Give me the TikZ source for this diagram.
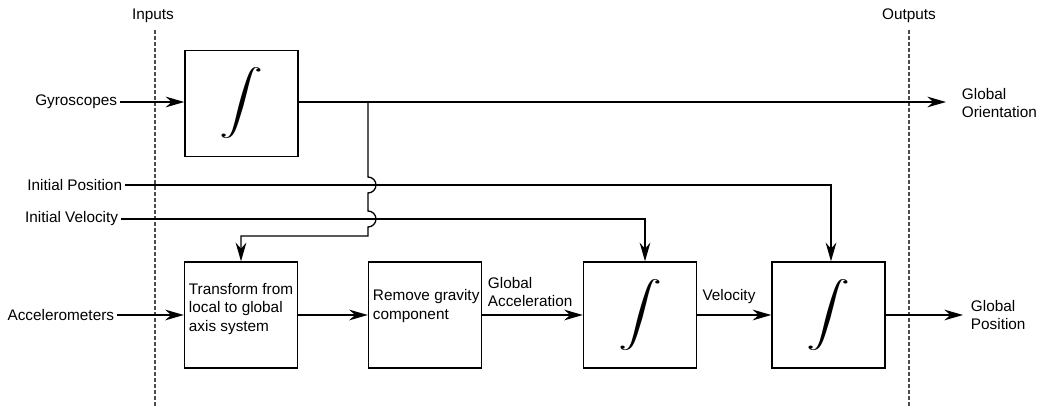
\documentclass[tikz,border=0pt]{standalone}
\usepackage{fontspec}
\setmainfont{Liberation Sans}
\usepackage{graphicx}
\usetikzlibrary{arrows.meta,calc}
\newlength\pxu
\setlength\pxu{0.75pt}
\newcommand\bigint{\scalebox{3.3}[2.4]{$\displaystyle\int$}}
\begin{document}
\begin{tikzpicture}[x=0.75pt,y=-0.75pt,
  every node/.style={font=\fontsize{11.5}{14}\selectfont},
  blk/.style={draw,line width=1pt,minimum width=113\pxu,minimum height=106\pxu,inner sep=0pt},
  txt/.style={inner sep=2pt},
  multi/.style={inner sep=2pt,align=left},
  arr/.style={line width=1pt,-{Stealth[length=14pt,width=8pt,inset=4.5pt]}},
  sep/.style={line width=0.8pt,draw=black!70,dash pattern=on 3pt off 1.5pt}
]
\path[use as bounding box] (0,0) rectangle (1040,410);
% separators
\draw[sep] (155,30) -- (155,408);
\draw[sep] (909,30) -- (909,408);
\node[txt] (inl) at (153,16) {Inputs};
\node[txt] (outl) at (909,16) {Outputs};
% blocks
\node[blk] (int1) at (241.5,103.5) {\bigint};
\node[blk] (tr) at (241,315) {};
\node[multi,anchor=west] (trt) at (186,309) {Transform from\\local to global\\axis system};
\node[blk] (rg) at (425,315) {};
\node[multi,anchor=west] (rgt) at (370,306) {Remove gravity\\component};
\node[blk] (int2) at (640,315) {\bigint};
\node[blk] (int3) at (828.5,315) {\bigint};
% inputs
\node[txt,anchor=east] (gyro) at (120,102) {Gyroscopes};
\node[txt,anchor=east] (ip) at (125,185) {Initial Position};
\node[txt,anchor=east] (iv) at (121,219) {Initial Velocity};
\node[txt,anchor=east] (acc) at (117,315) {Accelerometers};
% outputs
\node[multi,anchor=west] (go) at (959,103) {Global\\Orientation};
\node[multi,anchor=west] (gp) at (968,315) {Global\\Position};
\node[multi,anchor=west] (ga) at (485,292) {Global\\Acceleration};
\node[txt] (vel) at (729,297) {Velocity};
\coordinate (goe) at (946,102);
\coordinate (gpe) at (963,315);
\coordinate (br) at (368,102);
% connectors
\draw[arr] (gyro.east) -- (gyro.east -| int1.west);
\draw[arr] (int1.east |- br) -- (goe);
\draw[arr] (br) -- (368,177) arc[start angle=-90,end angle=90,radius=8] -- (368,211) arc[start angle=-90,end angle=90,radius=8] -- (368,236) -| (tr.north);
\draw[arr] (ip.east) -| ([xshift=2.5\pxu]int3.north);
\draw[arr] (iv.east) -| ([xshift=5\pxu]int2.north);
\draw[arr] (acc.east) -- (tr.west);
\draw[arr] (tr.east) -- (rg.west);
\draw[arr] (rg.east) -- (int2.west);
\draw[arr] (int2.east) -- (int3.west);
\draw[arr] (int3.east) -- (gpe);
\end{tikzpicture}
\end{document}
